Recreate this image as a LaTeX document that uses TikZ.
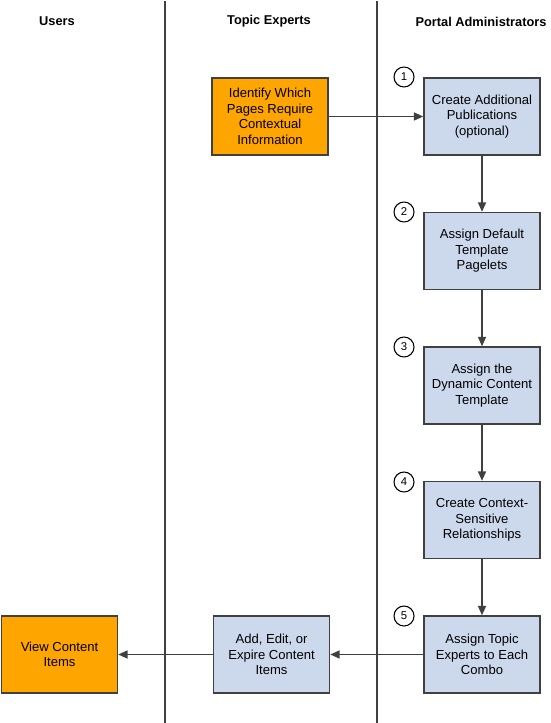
\documentclass[tikz,border=0pt]{standalone}
\usepackage{fontspec}
\setmainfont{Liberation Sans}
\usetikzlibrary{arrows.meta}

\definecolor{taskblue}{RGB}{204,217,236}
\definecolor{taskorange}{RGB}{255,165,0}
\definecolor{edgegray}{RGB}{64,64,64}

\tikzset{every picture/.style={line width=0.75pt}}
\tikzset{
  task/.style={draw=edgegray, line width=1.1pt, fill=taskblue, minimum width=87pt, minimum height=57.75pt,
    align=center, font=\fontsize{9.8}{11.7}\selectfont, inner sep=0pt},
  usertask/.style={task, fill=taskorange},
  lanehead/.style={font=\fontsize{9.6}{11}\selectfont\bfseries},
  stepnum/.style={draw=black, circle, line width=0.8pt, minimum size=15pt, inner sep=0pt, font=\fontsize{8.5}{9}\selectfont},
  flow/.style={draw=edgegray, line width=1.1pt, -{Triangle[length=7pt,width=6pt]}},
  lane/.style={draw=edgegray, line width=1.1pt}
}

\begin{document}
\begin{tikzpicture}[x=0.75pt,y=0.75pt,yscale=-1,xscale=1]
	\useasboundingbox (0,0) rectangle (550,723);

	% Lane separators
	\draw [lane] (165,1) -- (165,723) ;
	\draw [lane] (377,1) -- (377,723) ;

	% Lane headers
	\node [lanehead] (hdUsers) at (57,21.5) {Users};
	\node [lanehead] (hdExperts) at (269,21.5) {Topic Experts};
	\node [lanehead] (hdAdmins) at (481,21.5) {Portal Administrators};

	% Portal administrator steps
	\node [task] (createPub) at (482,116.5) {Create Additional\\Publications\\(optional)};
	\node [task] (assignTpl) at (482,251) {Assign Default\\Template\\Pagelets};
	\node [task] (assignDyn) at (482,385.5) {Assign the\\Dynamic Content\\Template};
	\node [task] (createRel) at (482,520) {Create Context-\\Sensitive\\Relationships};
	\node [task] (assignExp) at (482,654.5) {Assign Topic\\Experts to Each\\Combo};

	% Step numbers
	\node [stepnum] (num1) at (404,77) {1};
	\node [stepnum] (num2) at (404,212) {2};
	\node [stepnum] (num3) at (404,347) {3};
	\node [stepnum] (num4) at (404,482) {4};
	\node [stepnum] (num5) at (404,616) {5};

	% Topic expert steps
	\node [usertask] (identify) at (270,116.5) {Identify Which\\Pages Require\\Contextual\\Information};
	\node [task] (editItems) at (271.5,654.5) {Add, Edit, or\\Expire Content\\Items};

	% User step
	\node [usertask] (viewItems) at (59.5,654.5) {View Content\\Items};

	% Flow
	\draw [flow] (identify) -- (createPub) ;
	\draw [flow] (createPub) -- (assignTpl) ;
	\draw [flow] (assignTpl) -- (assignDyn) ;
	\draw [flow] (assignDyn) -- (createRel) ;
	\draw [flow] (createRel) -- (assignExp) ;
	\draw [flow] (assignExp) -- (editItems) ;
	\draw [flow] (editItems) -- (viewItems) ;

\end{tikzpicture}
\end{document}
